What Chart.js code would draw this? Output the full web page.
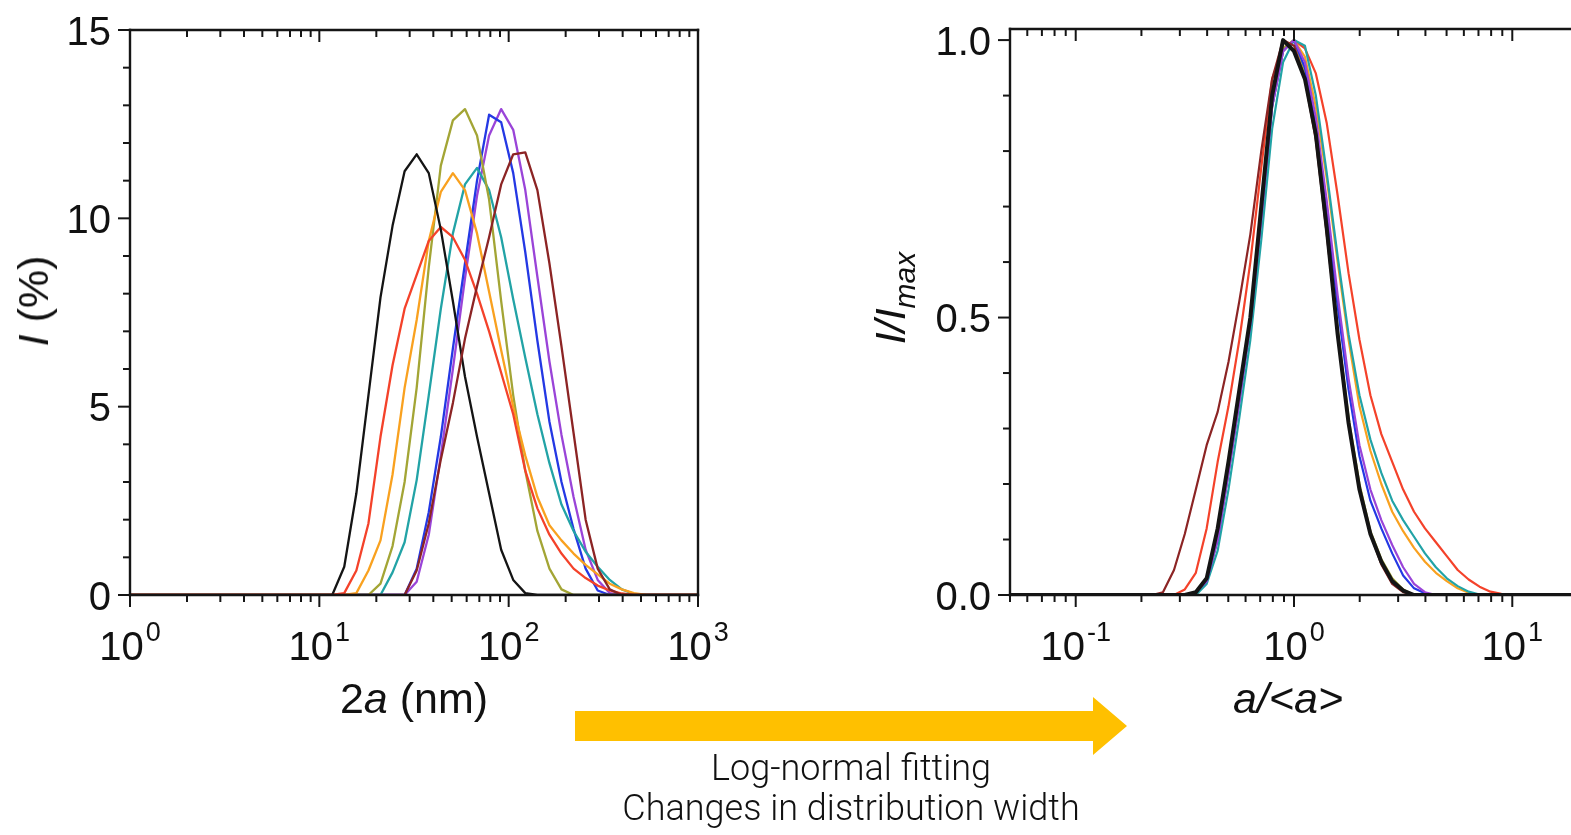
<!DOCTYPE html>
<html lang="en">
<head>
  <meta charset="UTF-8">
  <title>Size distributions and log-normal scaling</title>
  <style>
    html, body { margin: 0; padding: 0; background: #fff; overflow: hidden; }
    body { width: 1571px; height: 835px; position: relative; font-family: "Liberation Sans", Arial, sans-serif; color: #111; }
    canvas { position: absolute; top: 0; }
    #leftChart { left: 0; }
    #rightChart { left: 880px; }
    .title { position: absolute; font-size: 43px; line-height: 40px; white-space: nowrap; }
    .title sub { font-size: 30px; line-height: 0; vertical-align: -0.32em; }
    .xt { transform: translateX(-50%); top: 678px; }
    .yt { transform: translate(-50%, -50%) rotate(-90deg); }
    #arrow { position: absolute; left: 0; top: 0; }
    #note { position: absolute; left: 851px; top: 748px; transform: translateX(-50%); text-align: center;
            font-family: Roboto, "Liberation Sans", Arial, sans-serif; font-weight: 300; font-size: 36px; line-height: 40px; white-space: nowrap; }
  </style>
  <script src="https://cdn.jsdelivr.net/npm/chart.js"></script>
</head>
<body>
  <canvas id="leftChart" width="760" height="700"></canvas>
  <canvas id="rightChart" width="760" height="700"></canvas>

  <div class="title xt" style="left:414px">2<i>a</i> (nm)</div>
  <div class="title yt" style="left:33px; top:301px"><i>I</i> (%)</div>
  <div class="title xt" style="left:1288px"><i>a/&lt;a&gt;</i></div>
  <div class="title yt" style="left:890px; top:298px"><i>I/I<sub>max</sub></i></div>

  <svg id="arrow" width="1571" height="835">
    <polygon points="575,711 1093,711 1093,697 1127,726 1093,755 1093,741 575,741" fill="#ffc000"/>
  </svg>
  <div id="note">Log-normal fitting<br>Changes in distribution width</div>

  <script>
    // left panel: size bins (nm), log spaced
    const sizeBins = [0.8332, 0.9649, 1.117, 1.294, 1.499, 1.736, 2.01, 2.328, 2.696, 3.122, 3.615, 4.187, 4.849, 5.615, 6.503, 7.531, 8.721,
      10.1, 11.7, 13.54, 15.69, 18.17, 21.04, 24.36, 28.21, 32.67, 37.84, 43.82, 50.75, 58.77, 68.06, 78.82, 91.28, 105.7, 122.4,
      141.8, 164.2, 190.1, 220.2, 255.0, 295.3, 342.0, 396.1, 458.7, 531.2, 615.1,
      712.4, 825.0, 955.4, 1106, 1281, 1484, 1718, 1990, 2305, 2669, 3091];

    // intensity (%) for bins 10.1 ... 615.1 (zero below and above)
    const zeros17 = [0,0,0,0,0,0,0,0,0,0,0,0,0,0,0,0,0];
    const zeros11 = [0,0,0,0,0,0,0,0,0,0,0];
    const blackI  = [0,0,0.75,2.7,5.3,7.9,9.8,11.25,11.7,11.2,9.7,7.8,5.8,4.2,2.7,1.2,0.4,0.05,0,0,0,0,0,0,0,0,0,0,0];
    const redI    = [0,0,0.05,0.65,1.9,4.2,6.1,7.6,8.5,9.4,9.77,9.5,8.9,8.0,7.0,5.9,4.8,3.3,2.3,1.6,1.1,0.7,0.45,0.25,0.12,0.04,0,0,0];
    const orangeI = [0,0,0,0.05,0.65,1.45,3.2,5.5,7.3,9.4,10.7,11.2,10.75,9.6,8.05,6.5,5.0,3.7,2.6,1.85,1.45,1.1,0.8,0.55,0.3,0.15,0.05,0,0];
    const oliveI  = [0,0,0,0,0,0.3,1.3,3.0,5.5,8.7,11.4,12.6,12.9,12.2,10.5,7.8,5.3,3.3,1.7,0.7,0.15,0,0,0,0,0,0,0,0];
    const tealI   = [0,0,0,0,0,0,0.6,1.4,3.05,5.3,7.6,9.6,10.9,11.34,10.75,9.5,7.85,6.3,4.8,3.5,2.4,1.7,1.15,0.75,0.4,0.15,0.03,0,0];
    const blueI   = [0,0,0,0,0,0,0,0,0.7,2.2,4.2,6.55,8.8,11.0,12.75,12.55,11.2,9.1,6.75,4.6,3.0,1.75,0.7,0.12,0,0,0,0,0];
    const purpleI = [0,0,0,0,0,0,0,0,0.35,1.6,3.7,6.0,8.4,10.6,12.2,12.9,12.35,10.75,8.45,6.2,4.25,2.6,1.2,0.4,0.05,0,0,0,0];
    const brownI  = [0,0,0,0,0,0,0,0,0.65,1.9,3.6,5.1,6.8,8.2,9.5,10.9,11.7,11.75,10.75,8.8,6.6,4.3,2.0,0.7,0.15,0,0,0,0];

    // right panel: a/<a> grid and normalised intensity I/Imax
    const ratioGrid = [0.05, 0.2, 0.224, 0.251, 0.282, 0.316, 0.355, 0.398, 0.447, 0.501, 0.562, 0.631, 0.708, 0.794, 0.891, 1.0,
      1.122, 1.259, 1.413, 1.585, 1.778, 1.995, 2.239, 2.512, 2.818, 3.162, 3.548, 3.981, 4.467, 5.012, 5.623, 6.31, 7.079, 7.943, 8.913, 10, 20];
    const blackN  = [0,0,0,0,0,0,0.005,0.03,0.12,0.24,0.37,0.5,0.7,0.9,1.0,0.98,0.93,0.83,0.66,0.47,0.31,0.19,0.11,0.06,0.025,0.008,0,0,0,0,0,0,0,0,0,0,0];
    const redN    = [0,0,0,0,0,0.01,0.04,0.12,0.24,0.34,0.46,0.6,0.77,0.93,0.985,1.0,0.985,0.94,0.85,0.72,0.58,0.46,0.36,0.29,0.24,0.19,0.15,0.12,0.095,0.07,0.045,0.028,0.015,0.006,0.002,0,0];
    const orangeN = [0,0,0,0,0,0,0.005,0.025,0.1,0.22,0.35,0.49,0.68,0.88,0.98,1.0,0.97,0.88,0.75,0.6,0.46,0.34,0.26,0.2,0.15,0.115,0.085,0.06,0.04,0.025,0.012,0.004,0,0,0,0,0];
    const oliveN  = [0,0,0,0,0,0,0.005,0.03,0.11,0.23,0.36,0.49,0.69,0.89,0.985,1.0,0.94,0.83,0.66,0.48,0.32,0.2,0.115,0.065,0.03,0.01,0,0,0,0,0,0,0,0,0,0,0];
    const tealN   = [0,0,0,0,0,0,0,0.02,0.08,0.19,0.32,0.46,0.64,0.84,0.96,1.0,0.99,0.9,0.76,0.61,0.47,0.36,0.28,0.22,0.17,0.135,0.105,0.075,0.05,0.03,0.016,0.006,0.001,0,0,0,0];
    const blueN   = [0,0,0,0,0,0,0.005,0.025,0.1,0.22,0.35,0.49,0.68,0.88,0.98,1.0,0.95,0.85,0.69,0.52,0.37,0.25,0.17,0.12,0.075,0.035,0.012,0.003,0,0,0,0,0,0,0,0,0];
    const purpleN = [0,0,0,0,0,0,0.005,0.025,0.1,0.22,0.35,0.49,0.68,0.88,0.98,1.0,0.96,0.86,0.71,0.54,0.39,0.27,0.19,0.135,0.09,0.05,0.02,0.005,0,0,0,0,0,0,0,0,0];
    const brownN  = [0,0,0,0.005,0.045,0.11,0.19,0.27,0.33,0.42,0.53,0.65,0.8,0.93,1.0,0.99,0.93,0.82,0.65,0.47,0.31,0.19,0.11,0.055,0.02,0.005,0,0,0,0,0,0,0,0,0,0,0];

    const seriesI = [blackI, redI, orangeI, oliveI, tealI, blueI, purpleI, brownI];
    const seriesN = [blackN, redN, orangeN, oliveN, tealN, blueN, purpleN, brownN];
    const seriesColors = ['#141414', '#f4422a', '#f9a11f', '#a3a535', '#22a3a6', '#2438e4', '#9a44d8', '#8c2424'];

    // tick labels
    const leftYTicks = [0, 5, 10, 15];
    const rightYTicks = ['0.0', '0.5', '1.0'];
    const leftXExp = [0, 1, 2, 3];
    const rightXExp = [-1, 0, 1];

    const FONT = '"Liberation Sans", Arial, sans-serif';

    const framePlugin = {
      id: 'frame',
      afterDraw(chart, args, o) {
        const { ctx, chartArea: a, scales: { x, y } } = chart;
        ctx.save();
        ctx.strokeStyle = '#151515';
        ctx.lineWidth = 2.4;
        const seg = (x1, y1, x2, y2) => { ctx.beginPath(); ctx.moveTo(x1, y1); ctx.lineTo(x2, y2); ctx.stroke(); };

        // box
        seg(a.left, a.top - 1.2, a.left, a.bottom + 1.2);
        seg(a.left - 1.2, a.bottom, a.right + 1.2, a.bottom);
        seg(a.left - 1.2, a.top, a.right + 1.2, a.top);
        seg(a.right, a.top - 1.2, a.right, a.bottom + 1.2);

        // x ticks: outward at the bottom, inward at the top
        ctx.lineWidth = 2;
        const lo = Math.floor(Math.log10(x.min)), hi = Math.ceil(Math.log10(x.max));
        for (let e = lo; e <= hi; e++) {
          for (let k = 1; k <= 9; k++) {
            const v = k * Math.pow(10, e);
            if (v < x.min * 0.999 || v > x.max * 1.001) continue;
            const px = x.getPixelForValue(v);
            const len = k === 1 ? 12 : 7;
            seg(px, a.bottom, px, a.bottom + len);
            seg(px, a.top, px, a.top + len);
          }
        }
        // y ticks, outward
        const n = Math.round((o.yTop - y.min) / o.yMinor);
        for (let k = 0; k <= n; k++) {
          const py = y.getPixelForValue(y.min + k * o.yMinor);
          const len = k % o.yEvery === 0 ? 12 : 7;
          seg(a.left - len, py, a.left, py);
        }

        // tick labels
        ctx.fillStyle = '#111';
        ctx.textBaseline = 'alphabetic';
        ctx.font = '40px ' + FONT;
        ctx.textAlign = 'right';
        o.yLabels.forEach((t, i) => {
          ctx.fillText(String(t), a.left - 19, y.getPixelForValue(o.yValues[i]) + 14.5);
        });
        ctx.textAlign = 'left';
        o.xExp.forEach(e => {
          const px = x.getPixelForValue(Math.pow(10, e));
          const sup = e < 0 ? '-' + Math.abs(e) : String(e);
          ctx.font = '40px ' + FONT;
          const wb = ctx.measureText('10').width;
          ctx.font = '27px ' + FONT;
          const ws = ctx.measureText(sup).width;
          const x0 = px - (wb + ws + 2) / 2;
          ctx.font = '40px ' + FONT;
          ctx.fillText('10', x0, 660);
          ctx.font = '27px ' + FONT;
          ctx.fillText(sup, x0 + wb + 2, 641);
        });
        ctx.restore();
      }
    };

    const baseOptions = (xmin, xmax, ymax, pad) => ({
      responsive: false,
      animation: false,
      layout: { padding: pad },
      elements: { point: { radius: 0 }, line: { tension: 0, borderJoinStyle: 'round' } },
      plugins: { legend: { display: false }, tooltip: { enabled: false } },
      scales: {
        x: { type: 'logarithmic', min: xmin, max: xmax, display: false },
        y: { type: 'linear', min: 0, max: ymax, display: false }
      }
    });

    // left panel: intensity distributions
    const leftSets = seriesI.map((vals, i) => {
      const full = zeros17.concat(vals, zeros11);
      return {
        data: sizeBins.map((b, j) => ({ x: b, y: full[j] })),
        borderColor: seriesColors[i],
        borderWidth: 2.3,
        order: i === 7 ? 0 : i + 1
      };
    });

    const leftOpts = baseOptions(1, 1000, 15, { left: 130, top: 30, right: 62, bottom: 105 });
    leftOpts.plugins.frame = { yTop: 15, yMinor: 1, yEvery: 5, yLabels: leftYTicks, yValues: leftYTicks, xExp: leftXExp };
    new Chart(document.getElementById('leftChart'), {
      type: 'line',
      data: { datasets: leftSets },
      options: leftOpts,
      plugins: [framePlugin]
    });

    // right panel: normalised curves
    const rightSets = seriesN.map((vals, i) => ({
      data: ratioGrid.map((r, j) => ({ x: r, y: vals[j] })),
      borderColor: seriesColors[i],
      borderWidth: i === 0 ? 4 : 2.2,
      order: i === 0 ? 0 : 9 - i
    }));

    const rightOpts = baseOptions(0.05, 20, 1.02, { left: 130, top: 29, right: 62, bottom: 105 });
    rightOpts.plugins.frame = { yTop: 1.0, yMinor: 0.1, yEvery: 5, yLabels: rightYTicks, yValues: [0, 0.5, 1.0], xExp: rightXExp };
    new Chart(document.getElementById('rightChart'), {
      type: 'line',
      data: { datasets: rightSets },
      options: rightOpts,
      plugins: [framePlugin]
    });
  </script>
</body>
</html>
